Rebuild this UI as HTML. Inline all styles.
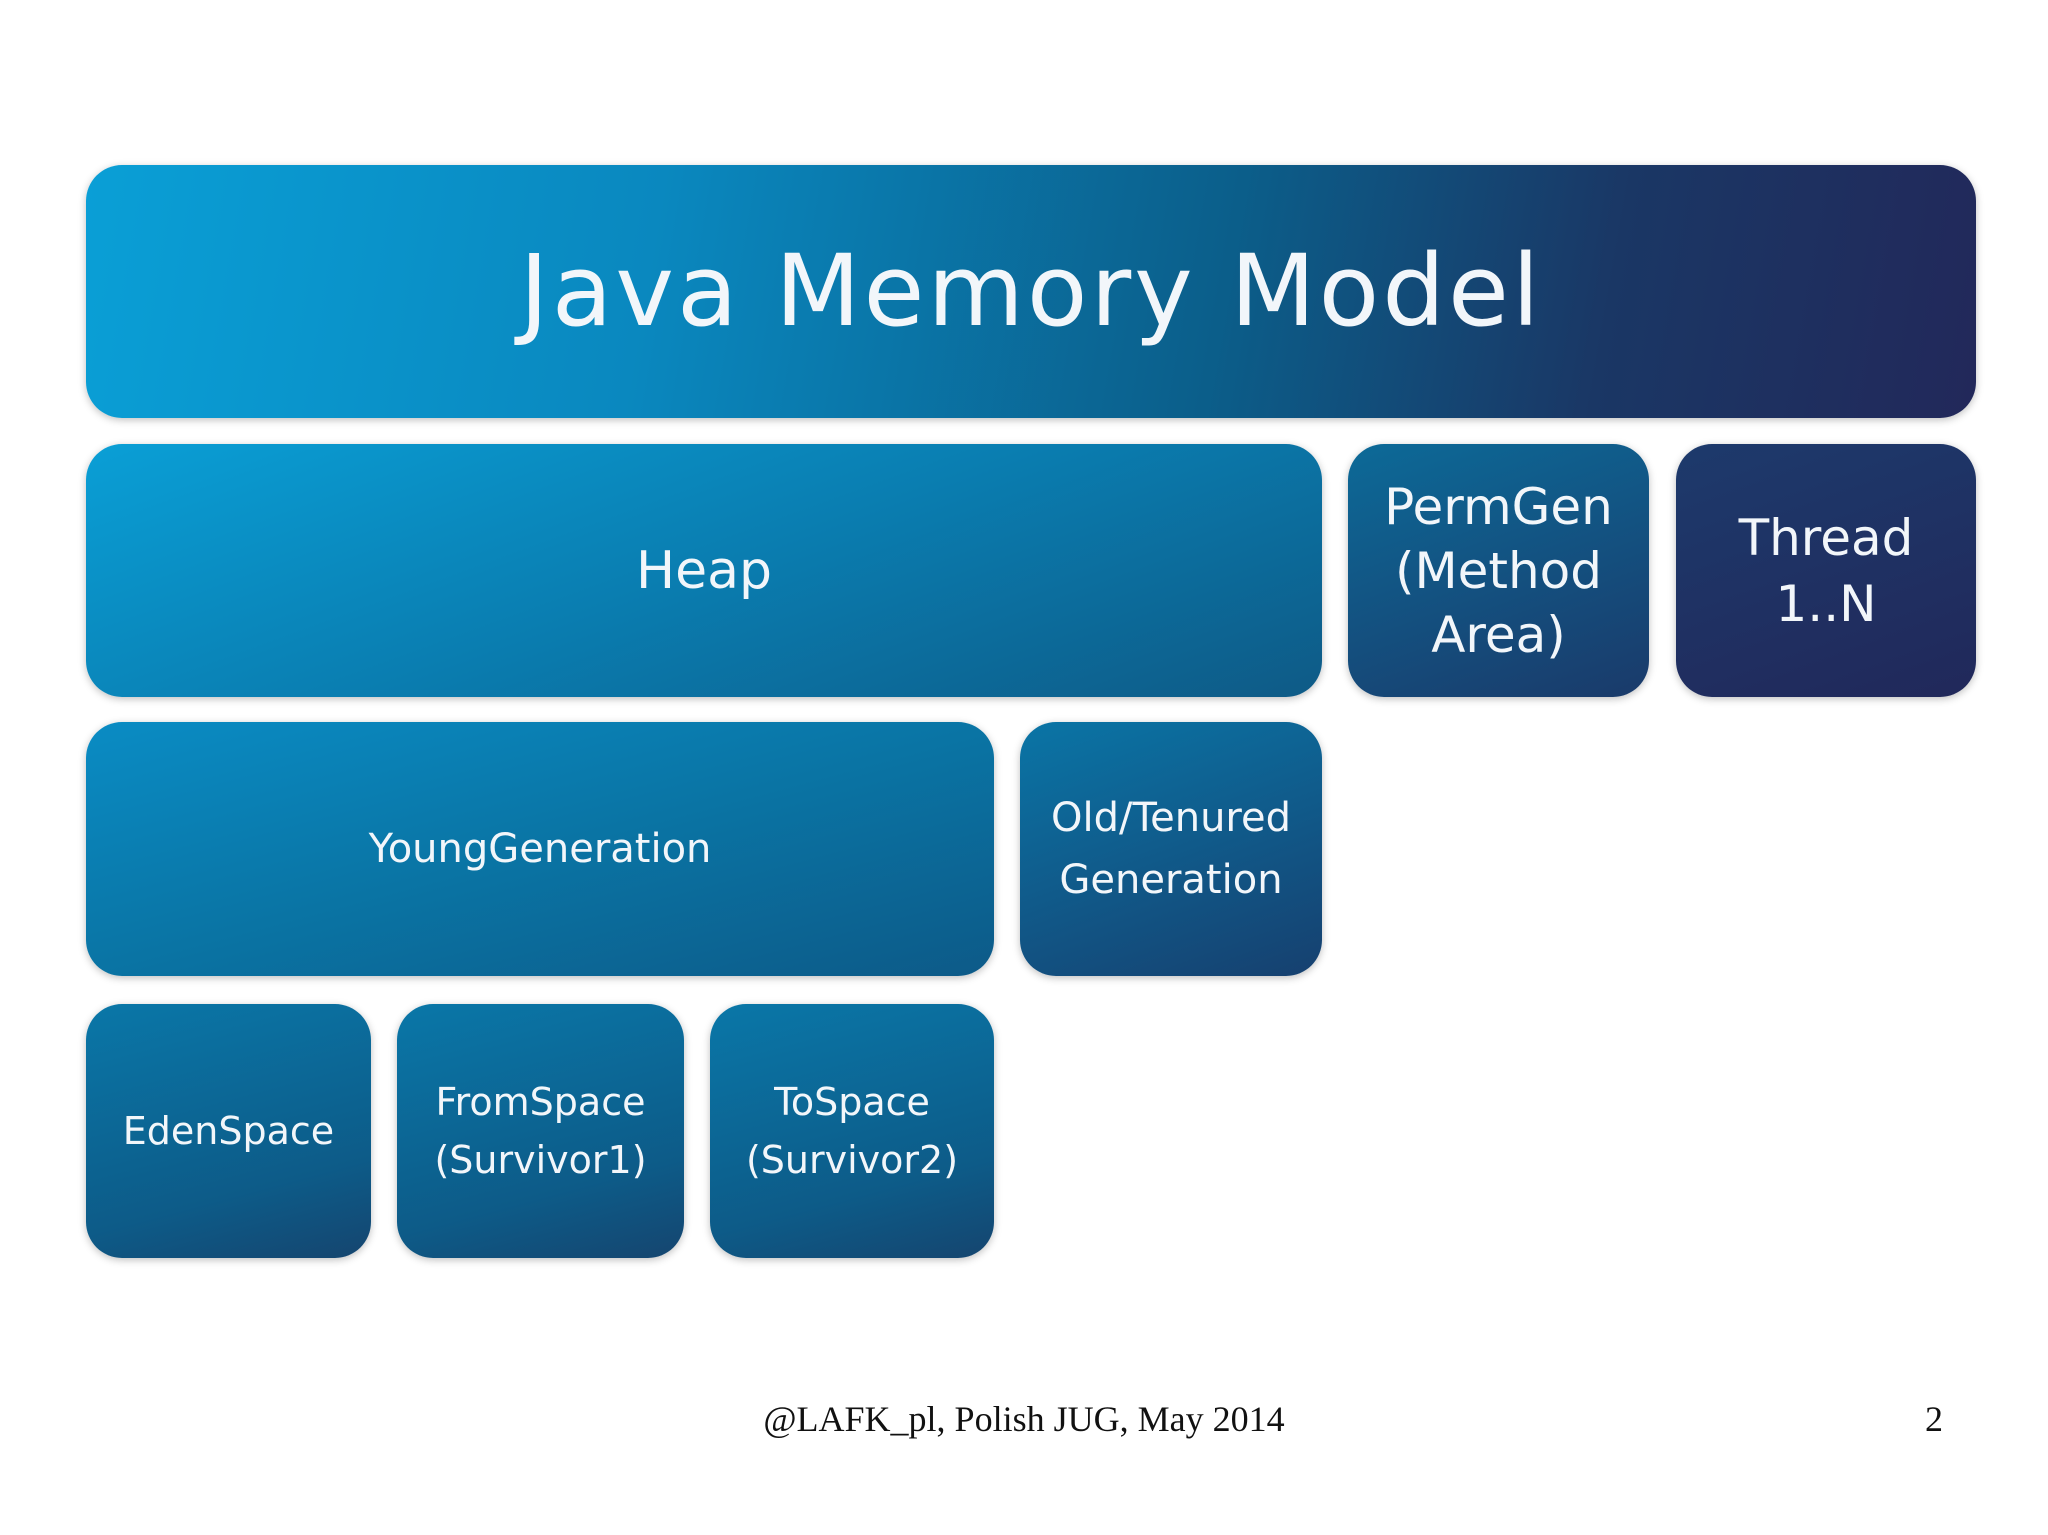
<!DOCTYPE html>
<html><head><style>
body{margin:0;width:2048px;height:1535px;background:#fff;position:relative;overflow:hidden;font-family:"DejaVu Sans","Liberation Sans",sans-serif;}
.b{position:absolute;border-radius:36px;color:#f2f6fa;display:flex;align-items:center;justify-content:center;text-align:center;box-shadow:0 2px 8px rgba(0,0,0,0.25);}
.t{left:86px;top:165px;width:1890px;height:253px;background:linear-gradient(100deg,#0a9fd6 0%,#0a88bf 30%,#0b5e8a 60%,#1a3765 80%,#22285a 100%);font-size:99px;letter-spacing:3px;}
.heap{left:86px;top:444px;width:1236px;height:253px;background:linear-gradient(160deg,#0a9fd6 0%,#0a7db0 50%,#0e5a86 100%);font-size:52px;}
.perm{left:1348px;top:444px;width:301px;height:253px;background:linear-gradient(160deg,#0c6a98,#1a3a6a);font-size:50px;line-height:64px;}
.thr{left:1676px;top:444px;width:300px;height:253px;background:linear-gradient(160deg,#1d3a6c,#21285a);font-size:50px;line-height:66px;}
.yg{left:86px;top:722px;width:908px;height:254px;background:linear-gradient(165deg,#0a8cc4 0%,#0a74a4 50%,#0d5a88 100%);font-size:40px;}
.old{left:1020px;top:722px;width:302px;height:254px;background:linear-gradient(160deg,#0a75a6,#16406f);font-size:40px;line-height:62px;}
.s{top:1004px;height:254px;background:linear-gradient(165deg,#0a77a8,#0d5b88 70%,#15456f);font-size:38px;line-height:58px;}
.f{position:absolute;top:1398px;font-family:"Liberation Serif",serif;font-size:36px;color:#111;}
</style></head><body>
<div class="b t">Java Memory Model</div>
<div class="b heap">Heap</div>
<div class="b perm">PermGen<br>(Method<br>Area)</div>
<div class="b thr">Thread<br>1..N</div>
<div class="b yg">YoungGeneration</div>
<div class="b old">Old/Tenured<br>Generation</div>
<div class="b s" style="left:86px;width:285px;">EdenSpace</div>
<div class="b s" style="left:397px;width:287px;">FromSpace<br>(Survivor1)</div>
<div class="b s" style="left:710px;width:284px;">ToSpace<br>(Survivor2)</div>
<div class="f" style="left:0;width:2048px;text-align:center;">@LAFK_pl, Polish JUG, May 2014</div>
<div class="f" style="left:1925px;">2</div>
</body></html>
